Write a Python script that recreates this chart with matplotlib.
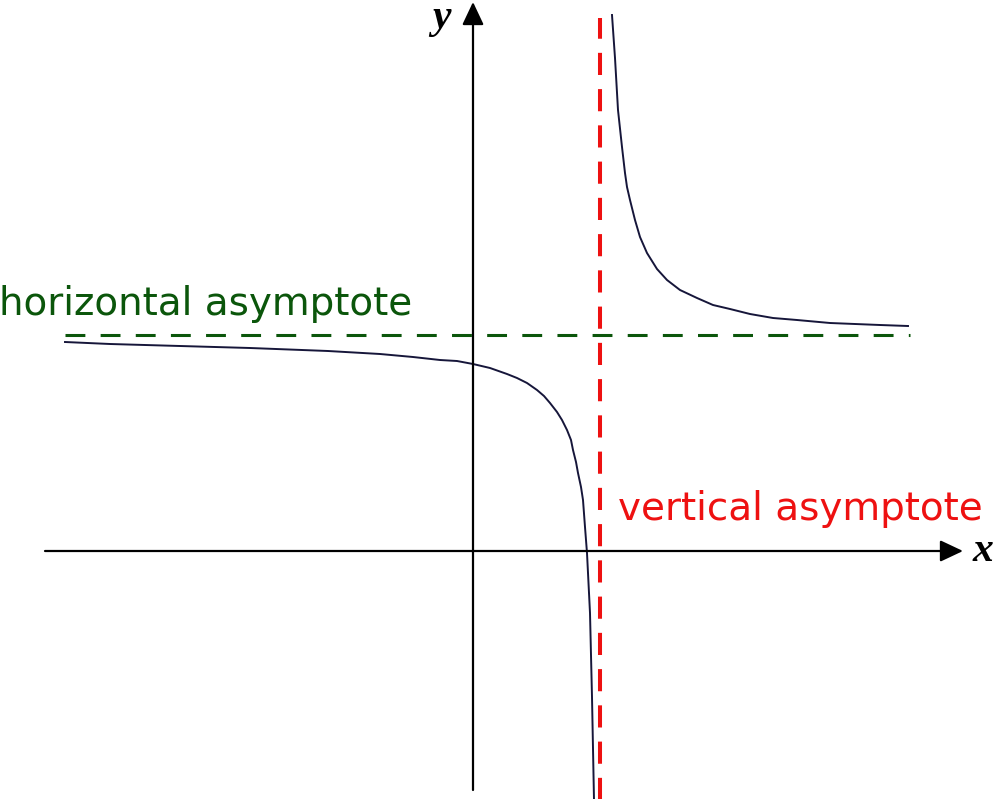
# Graph of a rational function with its asymptotes

# Importing the libraries
import numpy as np
import matplotlib.pyplot as plt

# Curve points (left and right branch)
left_x = [-4.08, -3.63, -2.23, -1.45, -0.93, -0.60, -0.33, -0.16, 0.00, 0.17, 0.34, 0.44,
          0.54, 0.64, 0.71, 0.77, 0.84, 0.89, 0.94, 0.98, 1.00, 1.03, 1.05, 1.08,
          1.10, 1.12, 1.14, 1.17, 1.19, 1.21]
left_y = [2.09, 2.07, 2.03, 2.00, 1.97, 1.94, 1.91, 1.90, 1.87, 1.83, 1.77, 1.73,
          1.68, 1.61, 1.55, 1.48, 1.39, 1.31, 1.21, 1.11, 1.01, 0.89, 0.78, 0.64,
          0.51, 0.24, -0.02, -0.62, -1.46, -2.49]
right_x = [1.39, 1.42, 1.45, 1.49, 1.52, 1.54, 1.57, 1.62, 1.67, 1.74, 1.84, 1.94,
           2.07, 2.24, 2.40, 2.57, 2.77, 3.00, 3.24, 3.57, 4.07, 4.35]
right_y = [5.36, 4.93, 4.41, 4.04, 3.78, 3.64, 3.51, 3.31, 3.14, 2.98, 2.82, 2.71,
           2.61, 2.53, 2.46, 2.42, 2.37, 2.33, 2.31, 2.28, 2.26, 2.25]

# Asymptotes
x_asym = 1.27
y_asym = 2.16
h_asym_range = [-4.08, 4.37]
v_asym_range = [-2.5, 5.33]

# Axes extent
x_axis = [-4.28, 4.90]
y_axis = [-2.39, 5.49]

fig = plt.figure(figsize=(10.03, 7.99), dpi=100)
ax = fig.add_axes([0, 0, 1, 1])
ax.set_xlim(-4.73, 5.30)
ax.set_ylim(-2.48, 5.51)
ax.axis('off')

# coordinate axes with arrow heads
arrow = dict(arrowstyle='-|>,head_length=0.7,head_width=0.33', lw=1.6,
             color='black', mutation_scale=20, shrinkA=0, shrinkB=0)
ax.annotate('', xy=(x_axis[1], 0), xytext=(x_axis[0], 0), arrowprops=arrow)
ax.annotate('', xy=(0, y_axis[1]), xytext=(0, y_axis[0]), arrowprops=arrow)
ax.text(x_axis[1] + 0.1, 0, 'x', fontsize=30, family='Liberation Serif',
        style='italic', weight='bold', va='center', ha='left')
ax.text(-0.22, 5.33, 'y', fontsize=30, family='Liberation Serif',
        style='italic', weight='bold', va='center', ha='right')

# asymptotes
ax.plot(h_asym_range, [y_asym, y_asym], color='#0b560b', lw=2.2,
        linestyle=(0, (6.5, 5)))
ax.plot([x_asym, x_asym], v_asym_range, color='#ee1111', lw=2.9,
        linestyle=(0, (5.5, 3.5)))

# curve
ax.plot(left_x, left_y, color='#16163a', lw=1.4)
ax.plot(right_x, right_y, color='#16163a', lw=1.4)

# labels
ax.text(-4.74, 2.36, 'horizontal asymptote', fontsize=28, color='#0b560b',
        family='DejaVu Sans', va='baseline', ha='left')
ax.text(1.45, 0.31, 'vertical asymptote', fontsize=28, color='#ee1111',
        family='DejaVu Sans', va='baseline', ha='left')

plt.savefig('out.png', dpi=100, facecolor='white')
